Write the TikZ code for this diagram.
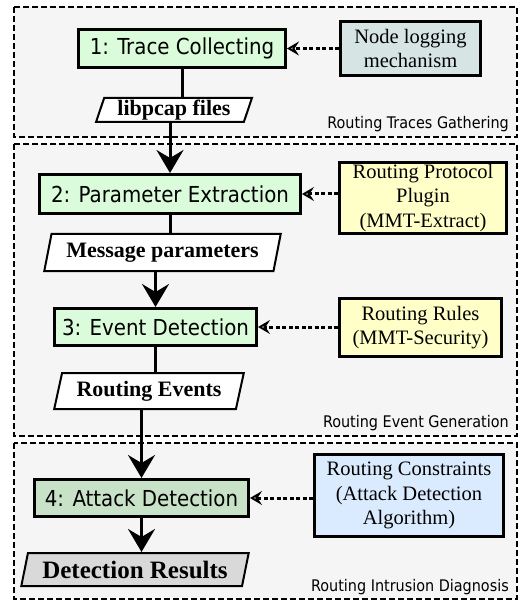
\documentclass[tikz,border=0pt]{standalone}
\usepackage{fontspec}
\setmainfont{Liberation Serif}
\newfontfamily\boxfont{DejaVu Sans Condensed}
\usetikzlibrary{shapes.geometric,arrows.meta}

\definecolor{groupgrey}{RGB}{245,245,245}
\definecolor{stepgreen}{RGB}{218,252,218}
\definecolor{attackgreen}{RGB}{200,226,200}
\definecolor{loggrey}{RGB}{214,228,228}
\definecolor{pluginyellow}{RGB}{255,255,200}
\definecolor{constrblue}{RGB}{219,235,255}
\definecolor{resultgrey}{RGB}{217,217,217}

\begin{document}
\begin{tikzpicture}[x=1pt,y=-1pt,
  >={Stealth[length=23pt,width=27pt,inset=8pt]},
  stage/.style={shape=rectangle,draw,line width=3pt,fill=stepgreen,inner sep=0pt,
    font=\boxfont\fontsize{22}{26}\selectfont},
  source/.style={shape=rectangle,draw,line width=3pt,inner sep=0pt,align=center,
    font=\fontsize{20.5}{24.5}\selectfont},
  data/.style={shape=trapezium,trapezium left angle=72,trapezium right angle=108,
    trapezium stretches=true,draw,line width=2pt,fill=white,inner sep=0pt,
    font=\bfseries\fontsize{22}{26}\selectfont},
  group/.style={draw,line width=2pt,dash pattern=on 6pt off 3pt,fill=groupgrey},
  grouplabel/.style={anchor=south east,inner sep=0pt,
    font=\boxfont\fontsize{16}{18}\selectfont},
  flow/.style={line width=3pt},
  feed/.style={line width=3pt,dash pattern=on 4pt off 2.5pt,
    -{Stealth[open,length=12pt,width=14pt,inset=4.5pt,line width=2pt]}}]
\useasboundingbox (0,0) rectangle (519,601);
\draw [group] (14,7)   rectangle (517,137);
\draw [group] (14,144) rectangle (517,436);
\draw [group] (14,443) rectangle (517,599);
\node (gather)  at (509,132) [grouplabel] {Routing Traces Gathering};
\node (generate) at (509,431) [grouplabel] {Routing Event Generation};
\node (diagnose) at (509,595) [grouplabel] {Routing Intrusion Diagnosis};

\node  (trace) at (182,48.5)   [stage,minimum width=207pt,minimum height=38pt] {1: Trace Collecting};
\node    (log) at (410.5,48.5) [source,fill=loggrey,minimum width=140pt,minimum height=54pt] {Node logging\\mechanism};
\node   (pcap) at (174,110)    [data,minimum width=156pt,minimum height=24pt] {libpcap files};
\node  (param) at (170,194)    [stage,minimum width=261pt,minimum height=39pt] {2: Parameter Extraction};
\node (plugin) at (423,198)    [source,fill=pluginyellow,minimum width=167pt,minimum height=71pt] {Routing Protocol\\Plugin\\(MMT-Extract)};
\node    (msg) at (162.5,252.5) [data,minimum width=237pt,minimum height=37pt] {Message parameters};
\node  (event) at (155.5,327)  [stage,minimum width=202pt,minimum height=37pt] {3: Event Detection};
\node  (rules) at (420.5,327.5) [source,fill=pluginyellow,minimum width=162pt,minimum height=58pt] {Routing Rules\\(MMT-Security)};
\node   (evts) at (149,391)    [data,minimum width=190pt,minimum height=36pt] {Routing Events};
\node (attack) at (141.5,498)  [stage,fill=attackgreen,minimum width=214pt,minimum height=37pt] {4: Attack Detection};
\node (constr) at (409,495.5)  [source,fill=constrblue,minimum width=189pt,minimum height=82pt] {Routing Constraints\\(Attack Detection\\Algorithm)};
\node (result) at (135,569.5)  [data,fill=resultgrey,minimum width=228pt,minimum height=33pt,font=\bfseries\fontsize{25}{28}\selectfont] {Detection Results};

\draw [flow]     (trace) -- (trace |- pcap.north);
\draw [flow,->]  (pcap.south -| param) -- (param);
\draw [flow]     (param) -- (param |- msg.north);
\draw [flow,->]  (msg.south -| event) -- (event);
\draw [flow]     (event) -- (event |- evts.north);
\draw [flow,->]  (evts.south -| attack) -- (attack);
\draw [flow,->]  (attack) -- (attack |- result.north);
\draw [feed]     (log) -- (trace);
\draw [feed]     (plugin.west |- param) -- (param);
\draw [feed]     (rules.west |- event) -- (event);
\draw [feed]     (constr.west |- attack) -- (attack);
\end{tikzpicture}
\end{document}
